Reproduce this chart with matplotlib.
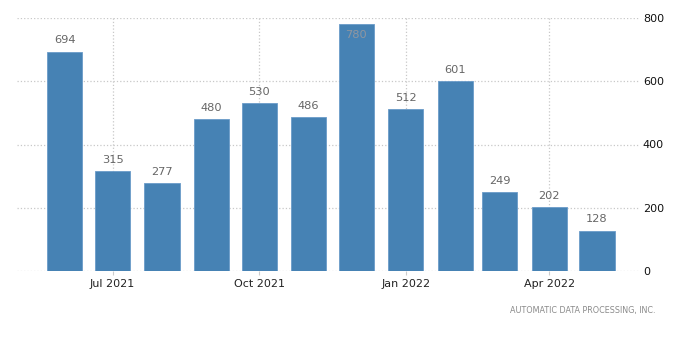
import datetime as dt

import matplotlib

matplotlib.use("Agg")
import matplotlib.dates as mdates
import matplotlib.pyplot as plt

months = ["2021-06", "2021-07", "2021-08", "2021-09", "2021-10", "2021-11", "2021-12",
          "2022-01", "2022-02", "2022-03", "2022-04", "2022-05"]
values = [694, 315, 277, 480, 530, 486, 780, 512, 601, 249, 202, 128]
tick_months = ["2021-07", "2021-10", "2022-01", "2022-04"]
tick_labels = ["Jul 2021", "Oct 2021", "Jan 2022", "Apr 2022"]
y_ticks = [0, 200, 400, 600, 800]
source = "AUTOMATIC DATA PROCESSING, INC."


def to_num(m):
    y, mo = m.split("-")
    return mdates.date2num(dt.date(int(y), int(mo), 1))


x = [to_num(m) for m in months]
xt = [to_num(m) for m in tick_months]

fig = plt.figure(figsize=(7, 3.6), dpi=100)
ax = fig.add_axes([17 / 700, 89 / 360, (640 - 17) / 700, (271 - 18) / 360])

ax.bar(x, values, width=22, color="#4682b4", edgecolor="#6a9bc9", linewidth=0.6, zorder=3)

for xi, v in zip(x, values):
    if v > 740:
        # no room above the tallest bar, label goes inside
        ax.text(xi, v - 35, str(v), ha="center", va="center", fontsize=8.2, color="#8f96a0", zorder=4)
    else:
        ax.text(xi, v + 35, str(v), ha="center", va="center", fontsize=8.2, color="#666666", zorder=4)

ax.set_xlim(to_num("2021-05") + 1, to_num("2022-05") + 27)
ax.set_ylim(0, 800)

ax.set_xticks(xt)
ax.set_xticklabels(tick_labels, fontsize=8, color="#222222")
ax.set_yticks(y_ticks)
ax.set_yticklabels([str(t) for t in y_ticks], fontsize=8, color="#111111")
ax.yaxis.tick_right()
ax.tick_params(axis="y", length=0, pad=2)
ax.tick_params(axis="x", length=3, color="#cccccc", pad=3)

ax.grid(True, linestyle=":", color="#c8c8c8", linewidth=0.9, zorder=0)
for s in ax.spines.values():
    s.set_visible(False)

fig.text(656 / 700, 1 - 311 / 360, source, ha="right", va="center", fontsize=5.8,
         color="#8a8a8a")

fig.savefig("out.png", dpi=100, facecolor="white")
